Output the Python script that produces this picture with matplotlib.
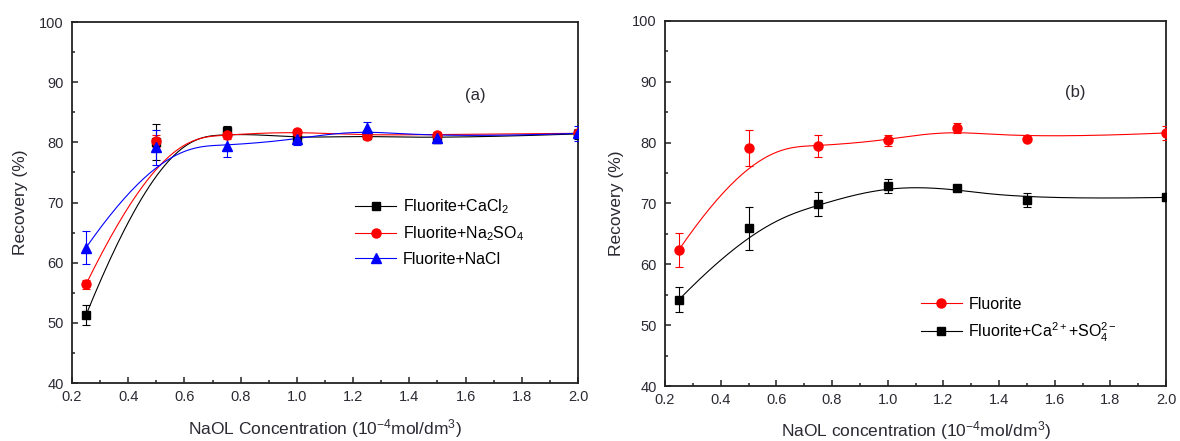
import numpy as np
import matplotlib
matplotlib.use("Agg")
import matplotlib.pyplot as plt
from matplotlib.lines import Line2D
from matplotlib.ticker import MultipleLocator

plt.rcParams["font.family"] = ["Liberation Sans", "DejaVu Sans"]
plt.rcParams["mathtext.fontset"] = "custom"
plt.rcParams["mathtext.rm"] = "Liberation Sans"
plt.rcParams["mathtext.it"] = "Liberation Sans:italic"

# NaOL concentration (1e-4 mol/dm3)
conc = [0.25, 0.5, 0.75, 1.0, 1.25, 1.5, 2.0]

# panel (a)
cacl2 = [51.3, 80.0, 81.9, 80.6, 81.2, 80.6, 81.4]
cacl2_err = [1.6, 3.0, 0.8, 0.8, 0.6, 0.5, 0.8]
na2so4 = [56.4, 80.3, 81.3, 81.8, 81.1, 81.3, 81.5]
na2so4_err = [0.8, 1.0, 0.8, 0.4, 0.6, 0.5, 0.6]
nacl = [62.5, 79.2, 79.4, 80.5, 82.4, 80.7, 81.5]
nacl_err = [2.8, 2.9, 1.8, 0.9, 0.9, 0.5, 1.2]

# panel (b)
fluorite = [62.4, 79.1, 79.4, 80.4, 82.4, 80.6, 81.6]
fluorite_err = [2.8, 3.0, 1.8, 0.9, 0.8, 0.4, 1.2]
mixed = [54.2, 65.9, 69.9, 72.9, 72.5, 70.6, 71.0]
mixed_err = [2.1, 3.6, 2.0, 1.2, 0.5, 1.1, 0.6]

TXT = "#2a2a33"


def bspline(xs, ys, n=300):
    # clamped cubic B-spline using the data points as control points
    xs = np.asarray(xs, float)
    ys = np.asarray(ys, float)
    p = 3
    m = len(xs)
    knots = np.concatenate([np.zeros(p), np.arange(0, m - p + 1), np.full(p, m - p)]).astype(float)
    t = np.linspace(0, m - p, n)
    t[-1] -= 1e-9

    def basis(i, k):
        if k == 0:
            return ((knots[i] <= t) & (t < knots[i + 1])).astype(float)
        out = np.zeros_like(t)
        d1 = knots[i + k] - knots[i]
        if d1 > 0:
            out += (t - knots[i]) / d1 * basis(i, k - 1)
        d2 = knots[i + k + 1] - knots[i + 1]
        if d2 > 0:
            out += (knots[i + k + 1] - t) / d2 * basis(i + 1, k - 1)
        return out

    B = np.array([basis(i, p) for i in range(m)])
    return B.T @ xs, B.T @ ys


def draw_series(ax, y, err, color, marker, ms, label):
    cx, cy = bspline(conc, y)
    ax.plot(cx, cy, color=color, lw=0.8, zorder=2)
    ax.errorbar(conc, y, yerr=err, fmt="none", ecolor=color, elinewidth=0.8,
                capsize=3, capthick=0.8, zorder=3)
    ax.plot(conc, y, ls="none", marker=marker, ms=ms, color=color, zorder=4)
    return Line2D([], [], color=color, lw=0.8, marker=marker, ms=ms, label=label)


def style_axes(ax, xlabel):
    ax.set_xlim(0.2, 2.0)
    ax.set_ylim(40, 100)
    ax.xaxis.set_major_locator(MultipleLocator(0.2))
    ax.xaxis.set_minor_locator(MultipleLocator(0.1))
    ax.yaxis.set_major_locator(MultipleLocator(10))
    ax.yaxis.set_minor_locator(MultipleLocator(5))
    ax.set_xticklabels([f"{v:.1f}" for v in ax.get_xticks()])
    ax.tick_params(which="both", direction="in", top=False, right=False,
                   labelsize=10.5, labelcolor=TXT, color="#222222", width=1.1)
    ax.tick_params(which="major", length=4.3)
    ax.tick_params(which="minor", length=2.2)
    ax.tick_params(axis="x", pad=5)
    ax.tick_params(axis="y", pad=6)
    for s in ax.spines.values():
        s.set_linewidth(1.3)
        s.set_color("#222222")
    ax.set_ylabel("Recovery (%)", fontsize=12.5, color=TXT)
    ax.set_xlabel(xlabel, fontsize=12.5, color=TXT)


fig = plt.figure(figsize=(11.8, 4.41), dpi=100)
ax1 = fig.add_axes([0.0610, 0.1315, 0.4288, 0.8186])
ax2 = fig.add_axes([0.5636, 0.1247, 0.4246, 0.8277])

h1 = draw_series(ax1, cacl2, cacl2_err, "black", "s", 6, r"Fluorite+CaCl$\mathregular{_2}$")
h2 = draw_series(ax1, na2so4, na2so4_err, "red", "o", 6.5, r"Fluorite+Na$\mathregular{_2}$SO$\mathregular{_4}$")
h3 = draw_series(ax1, nacl, nacl_err, "blue", "^", 7, "Fluorite+NaCl")
style_axes(ax1, r"NaOL Concentration (10$\mathregular{^{-4}}$mol/dm$\mathregular{^{3}}$)")
ax1.yaxis.set_label_coords(-0.087, 0.5)
ax1.xaxis.set_label_coords(0.5, -0.094)
ax1.text(1.634, 87.8, "(a)", fontsize=12, ha="center", va="center", color=TXT)
ax1.legend(handles=[h1, h2, h3], loc="upper left", bbox_to_anchor=(0.559, 0.515),
           frameon=False, fontsize=11.5, handlelength=2.6, labelspacing=0.55,
           handletextpad=0.4, borderpad=0, borderaxespad=0)

g1 = draw_series(ax2, fluorite, fluorite_err, "red", "o", 6.5, "Fluorite")
g2 = draw_series(ax2, mixed, mixed_err, "black", "s", 6,
                 r"Fluorite+Ca$\mathregular{^{2+}}$+SO$\mathregular{_4^{2-}}$")
style_axes(ax2, r"NaOL concentration (10$\mathregular{^{-4}}$mol/dm$\mathregular{^{3}}$)")
ax2.yaxis.set_label_coords(-0.082, 0.5)
ax2.xaxis.set_label_coords(0.5, -0.092)
ax2.text(1.675, 88.2, "(b)", fontsize=12, ha="center", va="center", color=TXT)
ax2.legend(handles=[g1, g2], loc="upper left", bbox_to_anchor=(0.51, 0.245),
           frameon=False, fontsize=11.5, handlelength=2.6, labelspacing=0.55,
           handletextpad=0.4, borderpad=0, borderaxespad=0)

fig.savefig("out.png", dpi=100)
